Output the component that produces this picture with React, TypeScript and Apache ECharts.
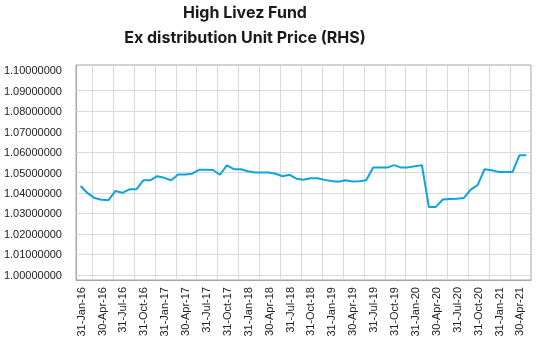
import React, { useEffect, useRef } from "react";
import * as echarts from "echarts";

// Month-end dates, Jan-16 .. May-21 (65 months); axis labels every quarter
const tickLabels = [
  "31-Jan-16", "30-Apr-16", "31-Jul-16", "31-Oct-16",
  "31-Jan-17", "30-Apr-17", "31-Jul-17", "31-Oct-17",
  "31-Jan-18", "30-Apr-18", "31-Jul-18", "31-Oct-18",
  "31-Jan-19", "30-Apr-19", "31-Jul-19", "31-Oct-19",
  "31-Jan-20", "30-Apr-20", "31-Jul-20", "31-Oct-20",
  "31-Jan-21", "30-Apr-21",
];

// Ex distribution unit price, one value per month
const unitPrice = [
  1.0434, 1.0399, 1.0375, 1.0367, 1.0365, 1.041, 1.0401, 1.0418, 1.0418, 1.0462,
  1.0462, 1.0482, 1.0474, 1.0462, 1.049, 1.049, 1.0494, 1.0513, 1.0513, 1.0512,
  1.0489, 1.0535, 1.0516, 1.0516, 1.0506, 1.05, 1.05, 1.05, 1.0494, 1.0482,
  1.0489, 1.047, 1.0465, 1.0472, 1.0472, 1.0464, 1.0459, 1.0455, 1.0462, 1.0456,
  1.0457, 1.0462, 1.0524, 1.0524, 1.0524, 1.0536, 1.0524, 1.0525, 1.053, 1.0536,
  1.0332, 1.0332, 1.0368, 1.0371, 1.0372, 1.0375, 1.0416, 1.0438, 1.0516, 1.0511,
  1.0503, 1.0502, 1.0502, 1.0584, 1.0584,
];

const GRID = "#d9d9d9";
const AXIS = "#a6a6a6";

export default function App() {
  const ref = useRef<HTMLDivElement>(null);
  useEffect(() => {
    if (!ref.current) return;
    const chart = echarts.init(ref.current, undefined, { renderer: "svg" });
    // x is measured in thirds of a month so quarter labels fall on integer ticks
    const data = unitPrice.map((v, i) => [i * 3, v]);
    // gridlines sit between the quarter labels / value labels
    const vLines = tickLabels.slice(1).map((_, k) => ({ xAxis: 5 + 9 * k }));
    const hLines = Array.from({ length: 10 }, (_, k) => ({ yAxis: 1.005 + 0.01 * k }));
    chart.setOption({
      animation: false,
      title: {
        text: "High Livez Fund\nEx distribution Unit Price (RHS)",
        left: 245,
        top: 0,
        textAlign: "center",
        padding: 0,
        textStyle: {
          fontFamily: "Inter",
          fontWeight: "bold",
          fontSize: 16,
          lineHeight: 24.5,
          color: "#1a1a1a",
        },
      },
      grid: {
        left: 76,
        right: 5,
        top: 65,
        bottom: 77,
        show: true,
        borderColor: AXIS,
        borderWidth: 1,
        containLabel: false,
      },
      xAxis: {
        type: "value",
        min: -2,
        max: 194,
        interval: 1,
        axisLine: { show: true, onZero: false, lineStyle: { color: AXIS, width: 1 } },
        axisTick: { show: false },
        splitLine: { show: false },
        axisLabel: {
          rotate: 90,
          margin: 7,
          fontFamily: "Liberation Sans",
          fontSize: 11,
          color: "#222",
          formatter: (v: number) => {
            const k = Math.round(v);
            if (k >= 0 && k % 9 === 0 && k / 9 < tickLabels.length) return tickLabels[k / 9];
            return "";
          },
        },
      },
      yAxis: {
        type: "value",
        min: 0.9975,
        max: 1.1025,
        interval: 0.0025,
        axisLine: { show: true, onZero: false, lineStyle: { color: AXIS, width: 1 } },
        axisTick: { show: false },
        splitLine: { show: false },
        axisLabel: {
          margin: 14,
          fontFamily: "Liberation Sans",
          fontSize: 11,
          color: "#222",
          formatter: (v: number) => {
            const k = Math.round(v * 400);
            return k % 4 === 0 ? (k / 400).toFixed(8) : "";
          },
        },
      },
      series: [
        {
          type: "line",
          data,
          symbol: "none",
          silent: true,
          lineStyle: { opacity: 0, width: 0 },
          z: 1,
          markLine: {
            z: 1,
            silent: true,
            symbol: "none",
            label: { show: false },
            emphasis: { disabled: true },
            lineStyle: { color: GRID, type: "solid", width: 1 },
            data: [...vLines, ...hLines],
          },
        },
        {
          type: "line",
          data,
          symbol: "none",
          lineStyle: { color: "#0ea5dd", width: 2 },
          z: 10,
        },
      ],
    });
    return () => chart.dispose();
  }, []);
  return (
    <div
      ref={ref}
      style={{ position: "fixed", left: 0, top: 0, width: 536, height: 357 }}
    />
  );
}
